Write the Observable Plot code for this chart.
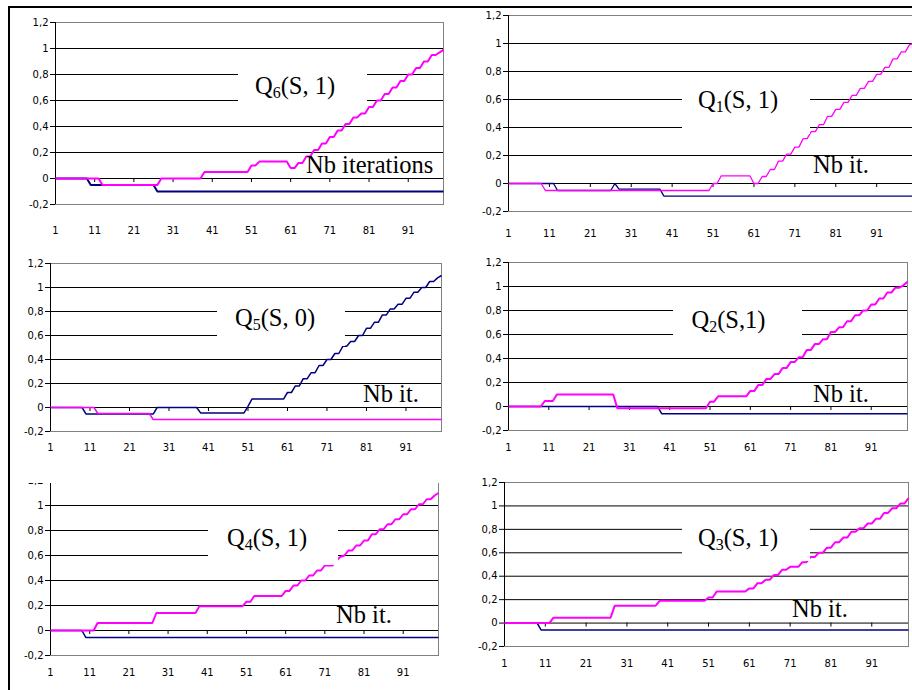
<!DOCTYPE html>
<html><head><meta charset="utf-8">
<script src="https://cdn.jsdelivr.net/npm/d3@7"></script>
<script src="https://cdn.jsdelivr.net/npm/@observablehq/plot@0.6"></script>
<style>
html,body{margin:0;padding:0;background:#fff;overflow:hidden}
#chart{position:relative;width:912px;height:690px;overflow:hidden;background:#fff}
</style></head><body><div id="chart"></div>
<script>
// ---------- data ----------
const categories = [1,2,3,4,5,6,7,8,9,10,11,12,13,14,15,16,17,18,19,20,21,22,23,24,25,26,27,28,29,30,31,32,33,34,35,36,37,38,39,40,41,42,43,44,45,46,47,48,49,50,51,52,53,54,55,56,57,58,59,60,61,62,63,64,65,66,67,68,69,70,71,72,73,74,75,76,77,78,79,80,81,82,83,84,85,86,87,88,89,90,91,92,93,94,95,96,97,98,99,100];
const xTickLabels = [1,11,21,31,41,51,61,71,81,91];
const yTicks = [-0.2,0,0.2,0.4,0.6,0.8,1,1.2];
const gridValues = [0,0.2,0.4,0.6,0.8,1];

const q6Magenta = [0,0,0,0,0,0,0,0,0,0,
 0,0,-0.05,-0.05,-0.05,-0.05,-0.05,-0.05,-0.05,-0.05,
 -0.05,-0.05,-0.05,-0.05,-0.05,-0.05,-0.05,0,0,0,
 0,0,0,0,0,0,0,0,0.05,0.05,
 0.05,0.05,0.05,0.05,0.05,0.05,0.05,0.05,0.05,0.05,
 0.1,0.1,0.13,0.13,0.13,0.13,0.13,0.13,0.13,0.13,
 0.08,0.08,0.12,0.12,0.17,0.17,0.22,0.22,0.27,0.27,
 0.32,0.32,0.37,0.37,0.42,0.42,0.47,0.47,0.5,0.5,
 0.55,0.55,0.6,0.6,0.65,0.65,0.7,0.7,0.75,0.75,
 0.8,0.8,0.85,0.85,0.9,0.9,0.95,0.95,0.97,0.99];
const q6Navy = [0,0,0,0,0,0,0,0,0,-0.05,
 -0.05,-0.05,-0.05,-0.05,-0.05,-0.05,-0.05,-0.05,-0.05,-0.05,
 -0.05,-0.05,-0.05,-0.05,-0.05,-0.05,-0.1,-0.1,-0.1,-0.1,
 -0.1,-0.1,-0.1,-0.1,-0.1,-0.1,-0.1,-0.1,-0.1,-0.1,
 -0.1,-0.1,-0.1,-0.1,-0.1,-0.1,-0.1,-0.1,-0.1,-0.1,
 -0.1,-0.1,-0.1,-0.1,-0.1,-0.1,-0.1,-0.1,-0.1,-0.1,
 -0.1,-0.1,-0.1,-0.1,-0.1,-0.1,-0.1,-0.1,-0.1,-0.1,
 -0.1,-0.1,-0.1,-0.1,-0.1,-0.1,-0.1,-0.1,-0.1,-0.1,
 -0.1,-0.1,-0.1,-0.1,-0.1,-0.1,-0.1,-0.1,-0.1,-0.1,
 -0.1,-0.1,-0.1,-0.1,-0.1,-0.1,-0.1,-0.1,-0.1,-0.1];

const q1Magenta = [0,0,0,0,0,0,0,0,0,-0.05,
 -0.05,-0.05,-0.05,-0.05,-0.05,-0.05,-0.05,-0.05,-0.05,-0.05,
 -0.05,-0.05,-0.05,-0.05,-0.05,-0.05,-0.05,-0.05,-0.05,-0.05,
 -0.05,-0.05,-0.05,-0.05,-0.05,-0.05,-0.05,-0.05,-0.05,-0.05,
 -0.05,-0.05,-0.05,-0.05,-0.05,-0.05,-0.05,-0.05,-0.05,-0.05,
 0,0,0.055,0.055,0.055,0.055,0.055,0.055,0.055,0.055,
 0,0,0.05,0.05,0.1,0.1,0.16,0.16,0.21,0.21,
 0.26,0.26,0.32,0.32,0.37,0.37,0.42,0.42,0.48,0.48,
 0.53,0.53,0.58,0.58,0.63,0.63,0.68,0.68,0.73,0.73,
 0.78,0.78,0.83,0.83,0.89,0.89,0.94,0.94,0.99,1.0];
const q1Navy = [0,0,0,0,0,0,0,0,0,0,
 0,0,-0.05,-0.05,-0.05,-0.05,-0.05,-0.05,-0.05,-0.05,
 -0.05,-0.05,-0.05,-0.05,-0.05,-0.05,0,-0.04,-0.04,-0.04,
 -0.04,-0.04,-0.04,-0.04,-0.04,-0.04,-0.04,-0.04,-0.09,-0.09,
 -0.09,-0.09,-0.09,-0.09,-0.09,-0.09,-0.09,-0.09,-0.09,-0.09,
 -0.09,-0.09,-0.09,-0.09,-0.09,-0.09,-0.09,-0.09,-0.09,-0.09,
 -0.09,-0.09,-0.09,-0.09,-0.09,-0.09,-0.09,-0.09,-0.09,-0.09,
 -0.09,-0.09,-0.09,-0.09,-0.09,-0.09,-0.09,-0.09,-0.09,-0.09,
 -0.09,-0.09,-0.09,-0.09,-0.09,-0.09,-0.09,-0.09,-0.09,-0.09,
 -0.09,-0.09,-0.09,-0.09,-0.09,-0.09,-0.09,-0.09,-0.09,-0.09];

const q5Navy = [0,0,0,0,0,0,0,0,0,-0.055,
 -0.055,-0.055,-0.055,-0.055,-0.055,-0.055,-0.055,-0.055,-0.055,-0.055,
 -0.055,-0.055,-0.055,-0.055,-0.055,-0.055,-0.055,0,0,0,
 0,0,0,0,0,0,0,0,-0.045,-0.045,
 -0.045,-0.045,-0.045,-0.045,-0.045,-0.045,-0.045,-0.045,-0.045,-0.045,
 0.01,0.07,0.07,0.07,0.07,0.07,0.07,0.07,0.07,0.07,
 0.125,0.125,0.18,0.18,0.24,0.24,0.29,0.29,0.35,0.35,
 0.4,0.4,0.45,0.45,0.51,0.51,0.55,0.55,0.6,0.6,
 0.66,0.66,0.71,0.71,0.77,0.77,0.82,0.82,0.86,0.86,
 0.91,0.91,0.96,0.96,1.0,1.0,1.05,1.05,1.08,1.1];
const q5Magenta = [0,0,0,0,0,0,0,0,0,0,
 0,0,-0.05,-0.05,-0.05,-0.05,-0.05,-0.05,-0.05,-0.05,
 -0.05,-0.05,-0.05,-0.05,-0.05,-0.05,-0.1,-0.1,-0.1,-0.1,
 -0.1,-0.1,-0.1,-0.1,-0.1,-0.1,-0.1,-0.1,-0.1,-0.1,
 -0.1,-0.1,-0.1,-0.1,-0.1,-0.1,-0.1,-0.1,-0.1,-0.1,
 -0.1,-0.1,-0.1,-0.1,-0.1,-0.1,-0.1,-0.1,-0.1,-0.1,
 -0.1,-0.1,-0.1,-0.1,-0.1,-0.1,-0.1,-0.1,-0.1,-0.1,
 -0.1,-0.1,-0.1,-0.1,-0.1,-0.1,-0.1,-0.1,-0.1,-0.1,
 -0.1,-0.1,-0.1,-0.1,-0.1,-0.1,-0.1,-0.1,-0.1,-0.1,
 -0.1,-0.1,-0.1,-0.1,-0.1,-0.1,-0.1,-0.1,-0.1,-0.1];

const q2Magenta = [0,0,0,0,0,0,0,0,0,0.045,
 0.045,0.045,0.1,0.1,0.1,0.1,0.1,0.1,0.1,0.1,
 0.1,0.1,0.1,0.1,0.1,0.1,0.1,-0.015,-0.015,-0.015,
 -0.015,-0.015,-0.015,-0.015,-0.015,-0.015,-0.015,-0.015,-0.015,-0.015,
 -0.015,-0.015,-0.015,-0.015,-0.015,-0.015,-0.015,-0.015,-0.015,-0.015,
 0.04,0.04,0.085,0.085,0.085,0.085,0.085,0.085,0.085,0.085,
 0.13,0.13,0.18,0.18,0.23,0.23,0.27,0.27,0.32,0.32,
 0.37,0.37,0.41,0.41,0.47,0.47,0.52,0.52,0.56,0.56,
 0.62,0.62,0.66,0.66,0.71,0.71,0.76,0.76,0.8,0.8,
 0.85,0.85,0.9,0.9,0.95,0.95,0.99,0.99,1.01,1.04];
const q2Navy = [0,0,0,0,0,0,0,0,0,0,
 0,0,0,0,0,0,0,0,0,0,
 0,0,0,0,0,0,0,0,0,0,
 0,0,0,0,0,0,0,0,-0.06,-0.06,
 -0.06,-0.06,-0.06,-0.06,-0.06,-0.06,-0.06,-0.06,-0.06,-0.06,
 -0.06,-0.06,-0.06,-0.06,-0.06,-0.06,-0.06,-0.06,-0.06,-0.06,
 -0.06,-0.06,-0.06,-0.06,-0.06,-0.06,-0.06,-0.06,-0.06,-0.06,
 -0.06,-0.06,-0.06,-0.06,-0.06,-0.06,-0.06,-0.06,-0.06,-0.06,
 -0.06,-0.06,-0.06,-0.06,-0.06,-0.06,-0.06,-0.06,-0.06,-0.06,
 -0.06,-0.06,-0.06,-0.06,-0.06,-0.06,-0.06,-0.06,-0.06,-0.06];

const q4Magenta = [0,0,0,0,0,0,0,0,0,0,
 0,0,0.06,0.06,0.06,0.06,0.06,0.06,0.06,0.06,
 0.06,0.06,0.06,0.06,0.06,0.06,0.06,0.14,0.14,0.14,
 0.14,0.14,0.14,0.14,0.14,0.14,0.14,0.14,0.195,0.195,
 0.195,0.195,0.195,0.195,0.195,0.195,0.195,0.195,0.195,0.195,
 0.23,0.23,0.276,0.276,0.276,0.276,0.276,0.276,0.276,0.276,
 0.317,0.317,0.36,0.36,0.4,0.4,0.44,0.44,0.48,0.48,
 0.52,0.52,0.52,0.56,0.59,0.6,0.64,0.64,0.68,0.68,
 0.72,0.72,0.77,0.77,0.81,0.81,0.85,0.85,0.89,0.89,
 0.93,0.93,0.97,0.97,1.01,1.01,1.05,1.05,1.08,1.1];
const q4Navy = [0,0,0,0,0,0,0,0,0,-0.055,
 -0.055,-0.055,-0.055,-0.055,-0.055,-0.055,-0.055,-0.055,-0.055,-0.055,
 -0.055,-0.055,-0.055,-0.055,-0.055,-0.055,-0.055,-0.055,-0.055,-0.055,
 -0.055,-0.055,-0.055,-0.055,-0.055,-0.055,-0.055,-0.055,-0.055,-0.055,
 -0.055,-0.055,-0.055,-0.055,-0.055,-0.055,-0.055,-0.055,-0.055,-0.055,
 -0.055,-0.055,-0.055,-0.055,-0.055,-0.055,-0.055,-0.055,-0.055,-0.055,
 -0.055,-0.055,-0.055,-0.055,-0.055,-0.055,-0.055,-0.055,-0.055,-0.055,
 -0.055,-0.055,-0.055,-0.055,-0.055,-0.055,-0.055,-0.055,-0.055,-0.055,
 -0.055,-0.055,-0.055,-0.055,-0.055,-0.055,-0.055,-0.055,-0.055,-0.055,
 -0.055,-0.055,-0.055,-0.055,-0.055,-0.055,-0.055,-0.055,-0.055,-0.055];

const q3Magenta = [0,0,0,0,0,0,0,0,0,0,
 0,0,0.046,0.046,0.046,0.046,0.046,0.046,0.046,0.046,
 0.046,0.046,0.046,0.046,0.046,0.046,0.046,0.147,0.147,0.147,
 0.147,0.147,0.147,0.147,0.147,0.147,0.147,0.147,0.19,0.19,
 0.19,0.19,0.19,0.19,0.19,0.19,0.19,0.19,0.19,0.19,
 0.218,0.218,0.27,0.27,0.27,0.27,0.27,0.27,0.27,0.27,
 0.296,0.296,0.34,0.34,0.37,0.37,0.41,0.41,0.455,0.455,
 0.48,0.48,0.48,0.52,0.52,0.563,0.563,0.6,0.6,0.644,
 0.644,0.69,0.69,0.73,0.73,0.78,0.78,0.81,0.81,0.85,
 0.85,0.89,0.89,0.94,0.94,0.98,0.98,1.02,1.02,1.066];
const q3Navy = [0,0,0,0,0,0,0,0,0,-0.06,
 -0.06,-0.06,-0.06,-0.06,-0.06,-0.06,-0.06,-0.06,-0.06,-0.06,
 -0.06,-0.06,-0.06,-0.06,-0.06,-0.06,-0.06,-0.06,-0.06,-0.06,
 -0.06,-0.06,-0.06,-0.06,-0.06,-0.06,-0.06,-0.06,-0.06,-0.06,
 -0.06,-0.06,-0.06,-0.06,-0.06,-0.06,-0.06,-0.06,-0.06,-0.06,
 -0.06,-0.06,-0.06,-0.06,-0.06,-0.06,-0.06,-0.06,-0.06,-0.06,
 -0.06,-0.06,-0.06,-0.06,-0.06,-0.06,-0.06,-0.06,-0.06,-0.06,
 -0.06,-0.06,-0.06,-0.06,-0.06,-0.06,-0.06,-0.06,-0.06,-0.06,
 -0.06,-0.06,-0.06,-0.06,-0.06,-0.06,-0.06,-0.06,-0.06,-0.06,
 -0.06,-0.06,-0.06,-0.06,-0.06,-0.06,-0.06,-0.06,-0.06,-0.06];

const panelIndex = ["6","1","5","2","4","3"];
const panelArgs = ["(S, 1)","(S, 1)","(S, 0)","(S,1)","(S, 1)","(S, 1)"];
const nbLabels = ["Nb iterations","Nb it.","Nb it.","Nb it.","Nb it.","Nb it."];
const magentaSeries = [q6Magenta,q1Magenta,q5Magenta,q2Magenta,q4Magenta,q3Magenta];
const navySeries = [q6Navy,q1Navy,q5Navy,q2Navy,q4Navy,q3Navy];

// ---------- layout ----------
const layout = [
  {left:0,   top:0,   w:460, h:245, ml:55, mr:17, mt:22, mb:41, xpad:22,   sw:2, swn:2,
   box:[238,66,367,108], q:[255,94], nb:[306,173]},
  {left:460, top:0,   w:453, h:245, ml:48, mr:0,  mt:15, mb:34, xpad:18.5, sw:1.3, swn:1.3,
   box:[682,88,810,134], q:[698,108], nb:[813,173]},
  {left:0,   top:245, w:460, h:215, ml:50, mr:19, mt:18, mb:29, xpad:12.5, sw:1.5, swn:1.5,
   box:[217,303,345,346], q:[235,326], nb:[363,402]},
  {left:460, top:245, w:452, h:215, ml:48, mr:5,  mt:17, mb:30, xpad:13.5, sw:2, swn:1.5,
   box:[673,301,802,343], q:[691.5,328], nb:[813,401.5]},
  {left:0,   top:460, w:460, h:230, ml:50, mr:22, mt:20, mb:35, xpad:13,   sw:2, swn:1.5,
   box:[208,521,338,565], q:[227,545.5], nb:[336,623], clipTop:483},
  {left:460, top:460, w:452, h:230, ml:44, mr:4,  mt:22, mb:44, xpad:13,   sw:2, swn:1.5,
   box:[682,520,810,561], q:[698,545.5], nb:[792,616.5]}
];

const fmt = d => String(Math.round(d*10)/10).replace(".", ",");
const chart = document.getElementById("chart");

layout.forEach((p, k) => {
  const rows = vals => categories.map((c, i) => ({cat: c, v: vals[i]}));
  const svg = Plot.plot({
    width: p.w, height: p.h,
    marginLeft: p.ml, marginRight: p.mr, marginTop: p.mt, marginBottom: p.mb,
    x: {type: "linear", domain: [1, 100], label: null},
    y: {domain: [-0.2, 1.2], label: null},
    style: {fontFamily: "'DejaVu Sans', sans-serif", fontSize: "10px", background: "transparent", overflow: "visible", color: "#000"},
    marks: [
      Plot.frame({stroke: "#808080", strokeWidth: 1}),
      Plot.ruleY(gridValues, {stroke: "#000", strokeWidth: 1}),
      Plot.ruleX([1], {stroke: "#000", strokeWidth: 1}),
      Plot.ruleX(xTickLabels.slice(1), {x: d => d, y1: 0, y2: 0, insetTop: 4, stroke: "#000"}),
      Plot.axisY(yTicks, {tickSize: 5, tickPadding: 2, tickFormat: fmt}),
      Plot.axisX(xTickLabels, {tickSize: 0, tickPadding: p.xpad, tickFormat: d => String(d)}),
      Plot.line(rows(navySeries[k]), {x: "cat", y: "v", stroke: "#000080", strokeWidth: p.swn, strokeLinejoin: "miter", strokeLinecap: "butt"}),
      Plot.line(rows(magentaSeries[k]), {x: "cat", y: "v", stroke: "#ff00ff", strokeWidth: p.sw, strokeLinejoin: "miter", strokeLinecap: "butt"})
    ]
  });
  svg.style.position = "absolute";
  svg.style.maxWidth = "none";
  if (p.clipTop !== undefined) {
    const wrap = document.createElement("div");
    wrap.style.cssText = `position:absolute;left:${p.left}px;top:${p.clipTop}px;width:${p.w}px;height:${690 - p.clipTop}px;overflow:hidden`;
    svg.style.left = "0px";
    svg.style.top = (p.top - p.clipTop) + "px";
    wrap.appendChild(svg);
    chart.appendChild(wrap);
  } else {
    svg.style.left = p.left + "px";
    svg.style.top = p.top + "px";
    chart.appendChild(svg);
  }
});

// ---------- annotation layer ----------
const ov = d3.select(chart).append("svg")
  .attr("width", 912).attr("height", 690)
  .style("position", "absolute").style("left", "0px").style("top", "0px");

ov.append("line").attr("x1", 8).attr("x2", 912).attr("y1", 7).attr("y2", 7)
  .attr("stroke", "#000").attr("stroke-width", 2);
ov.append("line").attr("x1", 9).attr("x2", 9).attr("y1", 6).attr("y2", 690)
  .attr("stroke", "#000").attr("stroke-width", 2);

layout.forEach((p, k) => {
  const [bx1, by1, bx2, by2] = p.box;
  ov.append("rect").attr("x", bx1).attr("y", by1).attr("width", bx2 - bx1).attr("height", by2 - by1).attr("fill", "#fff");
  const t = ov.append("text").attr("x", p.q[0]).attr("y", p.q[1])
    .attr("font-family", "'Liberation Serif', 'Times New Roman', serif").attr("font-size", 24.5).attr("fill", "#000");
  t.append("tspan").text("Q");
  t.append("tspan").attr("font-size", 16).attr("dy", 4).text(panelIndex[k]);
  t.append("tspan").attr("dy", -4).text(panelArgs[k]);
  ov.append("text").attr("x", p.nb[0]).attr("y", p.nb[1])
    .attr("font-family", "'Liberation Serif', 'Times New Roman', serif").attr("font-size", 24.5).attr("fill", "#000")
    .text(nbLabels[k]);
});
</script></body></html>
